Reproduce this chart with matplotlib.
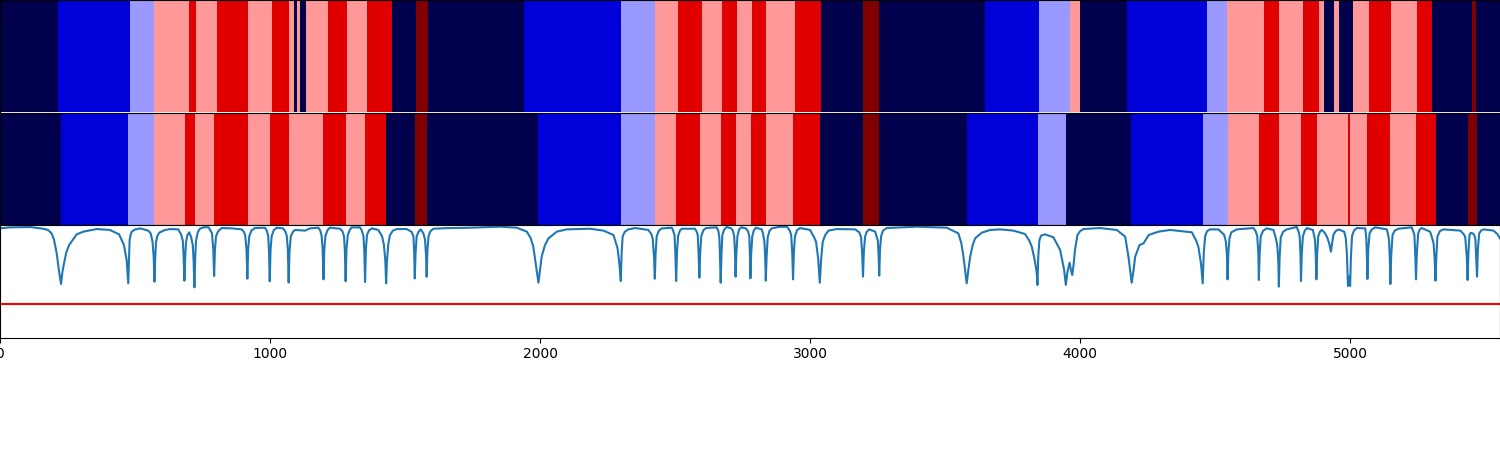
import numpy as np
import matplotlib
matplotlib.use('Agg')
import matplotlib.pyplot as plt
from matplotlib.colors import ListedColormap

n_frames = 5555

# segment end frames and class for each segment
pred_ends = [215, 481, 570, 700, 726, 804, 919, 1007, 1070, 1089, 1100, 1111, 1133, 1215, 1285, 1359, 1452,
             1541, 1585, 1941, 2300, 2426, 2511, 2600, 2674, 2730, 2785, 2837, 2945, 3041, 3196, 3256, 3648,
             3848, 3963, 4000, 4174, 4470, 4544, 4681, 4737, 4826, 4885, 4904, 4941, 4959, 5011, 5070, 5152,
             5248, 5304, 5452, 5467, 5555]
pred_labels = [0, 1, 2, 3, 4, 3, 4, 3, 4, 3, 0, 3, 0, 3, 4, 3, 4,
               0, 5, 0, 1, 2, 3, 4, 3, 4, 3, 4, 3, 4, 0, 5, 0,
               1, 2, 3, 0, 1, 2, 3, 4, 3, 4, 3, 0, 3, 0, 3, 4,
               3, 4, 0, 5, 0]

gt_ends = [226, 474, 570, 685, 722, 793, 919, 1000, 1070, 1196, 1281, 1352, 1430, 1537, 1581, 1993, 2300,
           2426, 2504, 2593, 2670, 2726, 2781, 2837, 2937, 3037, 3196, 3256, 3581, 3844, 3948, 4189, 4456,
           4548, 4663, 4737, 4819, 4878, 4993, 5000, 5063, 5148, 5244, 5319, 5437, 5470, 5555]
gt_labels = [0, 1, 2, 3, 4, 3, 4, 3, 4, 3, 4, 3, 4, 0, 5, 0, 1,
             2, 3, 4, 3, 4, 3, 4, 3, 4, 0, 5, 0, 1, 2, 0, 1,
             2, 3, 4, 3, 4, 3, 4, 3, 4, 3, 4, 0, 5, 0]

sim_x = [0, 37, 111, 160, 178, 191, 200, 210, 218, 226, 231, 237, 246, 256, 284, 309, 358, 407, 441,
         459, 469, 475, 478, 480, 484, 488, 500, 519,
         549, 558, 565, 569, 572, 575, 578, 583, 590, 610, 630, 660,
         670, 677, 680, 683, 686, 689, 694, 701,
         708, 714, 717, 720, 723, 726, 733, 741, 755, 772,
         780, 785, 790, 793, 796, 800, 808, 821, 860, 895,
         903, 908, 913, 916, 919, 923, 931, 944, 981,
         988, 993, 996, 999, 1002, 1006, 1014, 1025, 1049,
         1057, 1062, 1066, 1069, 1072, 1077, 1085, 1093, 1130, 1148, 1179,
         1186, 1191, 1195, 1198, 1201, 1205, 1213, 1222, 1259,
         1268, 1274, 1277, 1280, 1283, 1288, 1295, 1302, 1333,
         1340, 1346, 1349, 1352, 1355, 1359, 1366, 1377, 1401,
         1415, 1422, 1427, 1430, 1433, 1438, 1444, 1455, 1469, 1506,
         1524, 1531, 1534, 1536, 1539, 1543, 1550, 1558,
         1568, 1574, 1578, 1580, 1583, 1587, 1594, 1605, 1650, 1728, 1852,
         1914, 1951, 1965, 1975, 1985, 1994, 2000, 2006, 2018, 2031, 2062, 2099, 2185, 2235, 2272,
         2287, 2294, 2299, 2302, 2306, 2314, 2327, 2352, 2401,
         2412, 2417, 2422, 2425, 2428, 2432, 2440, 2451, 2488,
         2492, 2498, 2501, 2504, 2507, 2511, 2518, 2525, 2574,
         2580, 2584, 2587, 2590, 2593, 2597, 2605, 2615, 2654,
         2660, 2664, 2666, 2669, 2672, 2675, 2682, 2691, 2708,
         2714, 2719, 2722, 2724, 2727, 2731, 2737, 2745, 2762,
         2770, 2775, 2777, 2779, 2782, 2786, 2792, 2800, 2821,
         2826, 2831, 2834, 2836, 2839, 2843, 2850, 2858, 2885, 2914,
         2925, 2930, 2934, 2937, 2940, 2944, 2952, 2963, 3000,
         3015, 3022, 3030, 3036, 3041, 3047, 3056, 3068, 3099, 3167,
         3182, 3189, 3193, 3196, 3199, 3204, 3210, 3219, 3241,
         3246, 3251, 3254, 3256, 3259, 3263, 3270, 3284, 3395, 3506,
         3549, 3560, 3568, 3575, 3580, 3586, 3593, 3602, 3611, 3636, 3667, 3704,
         3753, 3796, 3812, 3821, 3830, 3836, 3840, 3842, 3845, 3849, 3855, 3870, 3901, 3926, 3941, 3947, 3953,
         3961, 3966, 3971, 3976, 3981, 3990, 4000, 4012, 4074, 4136, 4167, 4179, 4191, 4198, 4204, 4220, 4235,
         4254, 4290, 4333, 4414, 4430, 4438, 4448, 4454, 4458, 4463, 4470, 4481, 4512,
         4533, 4540, 4544, 4546, 4549, 4553, 4560, 4580, 4642,
         4650, 4656, 4660, 4662, 4665, 4669, 4678, 4691, 4716,
         4724, 4730, 4734, 4736, 4739, 4743, 4752, 4765, 4802,
         4808, 4813, 4816, 4818, 4821, 4825, 4832, 4840, 4862,
         4866, 4870, 4873, 4875, 4878, 4882, 4888, 4895, 4906, 4914, 4922, 4929, 4934, 4938, 4946, 4957, 4978,
         4984, 4988, 4992, 4996, 5000, 5003, 5007, 5014, 5025, 5056,
         5060, 5062, 5064, 5067, 5072, 5080, 5093, 5136,
         5140, 5144, 5147, 5149, 5152, 5157, 5165, 5179, 5228,
         5232, 5238, 5241, 5244, 5247, 5252, 5258, 5265, 5296,
         5303, 5309, 5313, 5316, 5319, 5323, 5332, 5345, 5408,
         5420, 5426, 5432, 5435, 5438, 5442, 5447, 5454,
         5460, 5464, 5467, 5470, 5473, 5478, 5485, 5494, 5531, 5545, 5555]
sim_y = [.97, .979, .982, .967, .955, .926, .87, .748, .6, .476, .58, .659, .76, .822, .917, .941, .964, .956, .917,
         .822, .689, .481, .7, .867, .915, .941, .96, .97,
         .95, .925, .85, .72, .496, .72, .852, .905, .932, .955, .964, .961,
         .92, .86, .72, .505, .72, .85, .91, .935,
         .89, .82, .68, .446, .72, .86, .94, .968, .98, .979,
         .95, .925, .78, .547, .78, .9, .945, .973, .97, .961,
         .94, .91, .78, .523, .78, .9, .95, .973, .976,
         .95, .905, .78, .5, .78, .9, .955, .976, .97,
         .94, .905, .78, .489, .76, .9, .94, .956, .95, .97, .976,
         .95, .905, .78, .517, .78, .9, .955, .976, .967,
         .945, .9, .78, .5, .78, .91, .955, .979, .979,
         .95, .9, .78, .493, .78, .91, .95, .97, .956,
         .9, .82, .68, .481, .68, .83, .91, .95, .964, .964,
         .94, .9, .75, .525, .75, .9, .94, .961,
         .925, .87, .72, .54, .78, .9, .945, .967, .972, .975, .985,
         .976, .941, .885, .807, .64, .487, .6, .719, .82, .881, .941, .961, .967, .95, .911,
         .793, .65, .502, .75, .9, .94, .961, .973, .956,
         .92, .881, .72, .523, .75, .9, .95, .97, .976,
         .955, .911, .75, .502, .75, .9, .95, .967, .967,
         .94, .911, .75, .532, .75, .9, .955, .973, .979,
         .95, .89, .75, .487, .75, .91, .96, .982, .97,
         .95, .9, .75, .541, .75, .9, .96, .979, .97,
         .945, .9, .75, .526, .75, .9, .955, .976, .961,
         .92, .85, .7, .505, .72, .89, .95, .97, .983, .985,
         .95, .91, .75, .517, .76, .9, .955, .973, .956,
         .89, .852, .7, .487, .7, .852, .91, .95, .964, .961,
         .935, .89, .74, .541, .76, .9, .94, .961, .941,
         .9, .86, .72, .55, .78, .9, .95, .973, .985, .976,
         .926, .84, .719, .58, .481, .6, .719, .82, .881, .932, .956, .961,
         .95, .92, .86, .807, .71, .63, .56, .467, .72, .86, .905, .917, .891, .778, .6, .467, .58,
         .665, .6, .556, .65, .778, .911, .945, .964, .973, .956, .896, .719, .487, .6, .719, .822, .837,
         .911, .941, .956, .935, .86, .807, .65, .481, .75, .9, .945, .961, .961,
         .915, .85, .72, .517, .75, .88, .935, .961, .973,
         .945, .9, .75, .511, .75, .9, .95, .97, .956,
         .89, .82, .68, .452, .72, .89, .94, .961, .982,
         .95, .9, .75, .502, .75, .9, .95, .973, .956,
         .91, .867, .7, .517, .75, .9, .94, .956, .93, .896, .84, .763, .85, .911, .945, .961, .941,
         .88, .748, .458, .541, .458, .72, .9, .95, .973, .97,
         .88, .72, .52, .78, .926, .96, .979, .961,
         .92, .867, .7, .475, .72, .911, .95, .967, .979,
         .955, .911, .75, .517, .75, .926, .96, .973, .941,
         .89, .837, .7, .505, .7, .896, .945, .961, .95,
         .92, .896, .72, .511, .75, .911, .93, .926,
         .91, .87, .7, .541, .78, .926, .95, .961, .95, .92, .881]
threshold = 0.3

xticks = [0, 1000, 2000, 3000, 4000, 5000]

# close to seismic, picked per class to match the picture
class_colors = ['#00004d', '#0000d8', '#9999ff', '#ff9999', '#e00000', '#800000']


def to_frames(ends, labels):
    lengths = np.diff([0] + ends)
    return np.repeat(labels, lengths)[np.newaxis, :]


fig, axes = plt.subplots(3, 1, figsize=(15, 4.5), sharex=True)

for ax, ends, labels in zip(axes[:2], [pred_ends, gt_ends], [pred_labels, gt_labels]):
    ax.imshow(to_frames(ends, labels), cmap=ListedColormap(class_colors), vmin=0, vmax=5, aspect='auto',
              interpolation='nearest', extent=[0, n_frames, 0, 1])
    ax.set_yticks([])
    ax.tick_params(bottom=False)

axes[2].plot(sim_x, sim_y)
axes[2].axhline(threshold, color='red')
axes[2].set_ylim(0, 1)
axes[2].set_yticks([])
axes[2].set_xticks(xticks)
axes[2].set_xlim(0, n_frames)

fig.subplots_adjust(left=0, right=1, bottom=0.25, top=1, hspace=0)
fig.savefig('out.png', dpi=100)
